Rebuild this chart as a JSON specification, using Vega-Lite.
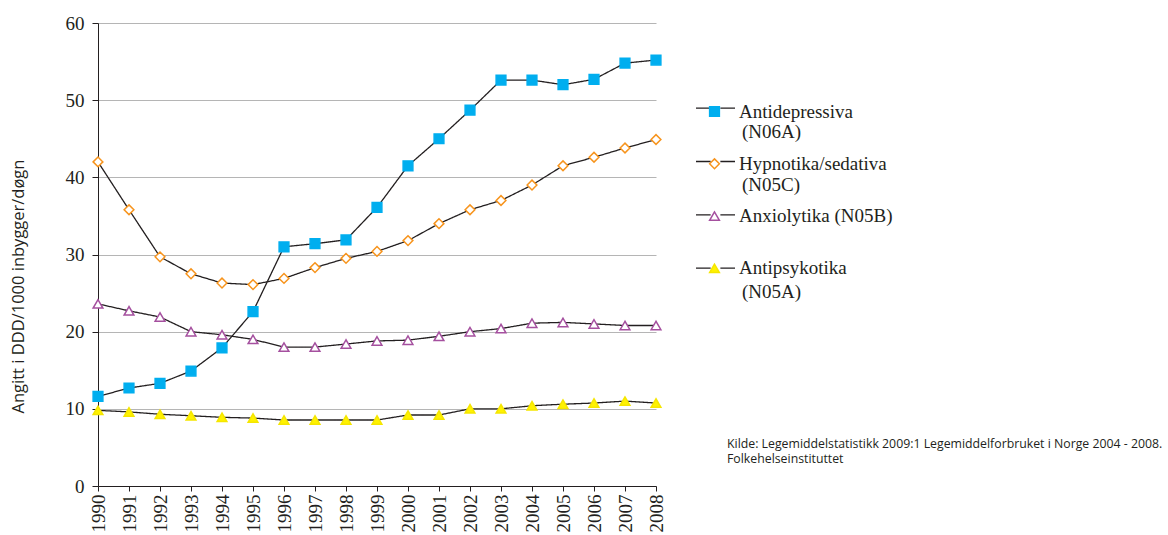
{
  "$schema": "https://vega.github.io/schema/vega-lite/v6.json",
  "width": 558,
  "height": 463,
  "autosize": {"type": "none"},
  "padding": {"left": 98, "top": 23, "right": 512, "bottom": 49},
  "background": "white",
  "title": {
    "text": ["Kilde: Legemiddelstatistikk 2009:1 Legemiddelforbruket i Norge 2004 - 2008.", "Folkehelseinstituttet"],
    "orient": "bottom",
    "anchor": "start",
    "frame": "group",
    "offset": 0,
    "dx": 629,
    "dy": -94,
    "font": "Open Sans",
    "fontSize": 12.3,
    "fontWeight": "normal",
    "color": "#231f20",
    "lineHeight": 15
  },
  "config": {
    "view": {"stroke": null},
    "legend": {"gridAlign": "all", "padding": 0}
  },
  "data": {
    "values": [
      {"year": 1990, "serie": "Antidepressiva (N06A)", "value": 11.6},
      {"year": 1991, "serie": "Antidepressiva (N06A)", "value": 12.7},
      {"year": 1992, "serie": "Antidepressiva (N06A)", "value": 13.3},
      {"year": 1993, "serie": "Antidepressiva (N06A)", "value": 14.9},
      {"year": 1994, "serie": "Antidepressiva (N06A)", "value": 17.9},
      {"year": 1995, "serie": "Antidepressiva (N06A)", "value": 22.6},
      {"year": 1996, "serie": "Antidepressiva (N06A)", "value": 31.0},
      {"year": 1997, "serie": "Antidepressiva (N06A)", "value": 31.4},
      {"year": 1998, "serie": "Antidepressiva (N06A)", "value": 31.9},
      {"year": 1999, "serie": "Antidepressiva (N06A)", "value": 36.1},
      {"year": 2000, "serie": "Antidepressiva (N06A)", "value": 41.5},
      {"year": 2001, "serie": "Antidepressiva (N06A)", "value": 45.0},
      {"year": 2002, "serie": "Antidepressiva (N06A)", "value": 48.7},
      {"year": 2003, "serie": "Antidepressiva (N06A)", "value": 52.6},
      {"year": 2004, "serie": "Antidepressiva (N06A)", "value": 52.6},
      {"year": 2005, "serie": "Antidepressiva (N06A)", "value": 52.0},
      {"year": 2006, "serie": "Antidepressiva (N06A)", "value": 52.7},
      {"year": 2007, "serie": "Antidepressiva (N06A)", "value": 54.8},
      {"year": 2008, "serie": "Antidepressiva (N06A)", "value": 55.2},
      {"year": 1990, "serie": "Hypnotika/sedativa (N05C)", "value": 42.0},
      {"year": 1991, "serie": "Hypnotika/sedativa (N05C)", "value": 35.8},
      {"year": 1992, "serie": "Hypnotika/sedativa (N05C)", "value": 29.7},
      {"year": 1993, "serie": "Hypnotika/sedativa (N05C)", "value": 27.5},
      {"year": 1994, "serie": "Hypnotika/sedativa (N05C)", "value": 26.3},
      {"year": 1995, "serie": "Hypnotika/sedativa (N05C)", "value": 26.1},
      {"year": 1996, "serie": "Hypnotika/sedativa (N05C)", "value": 26.9},
      {"year": 1997, "serie": "Hypnotika/sedativa (N05C)", "value": 28.3},
      {"year": 1998, "serie": "Hypnotika/sedativa (N05C)", "value": 29.5},
      {"year": 1999, "serie": "Hypnotika/sedativa (N05C)", "value": 30.4},
      {"year": 2000, "serie": "Hypnotika/sedativa (N05C)", "value": 31.8},
      {"year": 2001, "serie": "Hypnotika/sedativa (N05C)", "value": 34.0},
      {"year": 2002, "serie": "Hypnotika/sedativa (N05C)", "value": 35.8},
      {"year": 2003, "serie": "Hypnotika/sedativa (N05C)", "value": 37.0},
      {"year": 2004, "serie": "Hypnotika/sedativa (N05C)", "value": 39.0},
      {"year": 2005, "serie": "Hypnotika/sedativa (N05C)", "value": 41.5},
      {"year": 2006, "serie": "Hypnotika/sedativa (N05C)", "value": 42.6},
      {"year": 2007, "serie": "Hypnotika/sedativa (N05C)", "value": 43.8},
      {"year": 2008, "serie": "Hypnotika/sedativa (N05C)", "value": 44.9},
      {"year": 1990, "serie": "Anxiolytika (N05B)", "value": 23.6},
      {"year": 1991, "serie": "Anxiolytika (N05B)", "value": 22.7},
      {"year": 1992, "serie": "Anxiolytika (N05B)", "value": 21.9},
      {"year": 1993, "serie": "Anxiolytika (N05B)", "value": 20.0},
      {"year": 1994, "serie": "Anxiolytika (N05B)", "value": 19.6},
      {"year": 1995, "serie": "Anxiolytika (N05B)", "value": 19.0},
      {"year": 1996, "serie": "Anxiolytika (N05B)", "value": 18.0},
      {"year": 1997, "serie": "Anxiolytika (N05B)", "value": 18.0},
      {"year": 1998, "serie": "Anxiolytika (N05B)", "value": 18.4},
      {"year": 1999, "serie": "Anxiolytika (N05B)", "value": 18.8},
      {"year": 2000, "serie": "Anxiolytika (N05B)", "value": 18.9},
      {"year": 2001, "serie": "Anxiolytika (N05B)", "value": 19.4},
      {"year": 2002, "serie": "Anxiolytika (N05B)", "value": 20.0},
      {"year": 2003, "serie": "Anxiolytika (N05B)", "value": 20.4},
      {"year": 2004, "serie": "Anxiolytika (N05B)", "value": 21.1},
      {"year": 2005, "serie": "Anxiolytika (N05B)", "value": 21.2},
      {"year": 2006, "serie": "Anxiolytika (N05B)", "value": 21.0},
      {"year": 2007, "serie": "Anxiolytika (N05B)", "value": 20.8},
      {"year": 2008, "serie": "Anxiolytika (N05B)", "value": 20.8},
      {"year": 1990, "serie": "Antipsykotika (N05A)", "value": 9.8},
      {"year": 1991, "serie": "Antipsykotika (N05A)", "value": 9.6},
      {"year": 1992, "serie": "Antipsykotika (N05A)", "value": 9.3},
      {"year": 1993, "serie": "Antipsykotika (N05A)", "value": 9.1},
      {"year": 1994, "serie": "Antipsykotika (N05A)", "value": 8.9},
      {"year": 1995, "serie": "Antipsykotika (N05A)", "value": 8.8},
      {"year": 1996, "serie": "Antipsykotika (N05A)", "value": 8.55},
      {"year": 1997, "serie": "Antipsykotika (N05A)", "value": 8.55},
      {"year": 1998, "serie": "Antipsykotika (N05A)", "value": 8.55},
      {"year": 1999, "serie": "Antipsykotika (N05A)", "value": 8.55},
      {"year": 2000, "serie": "Antipsykotika (N05A)", "value": 9.2},
      {"year": 2001, "serie": "Antipsykotika (N05A)", "value": 9.2},
      {"year": 2002, "serie": "Antipsykotika (N05A)", "value": 10.0},
      {"year": 2003, "serie": "Antipsykotika (N05A)", "value": 10.0},
      {"year": 2004, "serie": "Antipsykotika (N05A)", "value": 10.4},
      {"year": 2005, "serie": "Antipsykotika (N05A)", "value": 10.6},
      {"year": 2006, "serie": "Antipsykotika (N05A)", "value": 10.75},
      {"year": 2007, "serie": "Antipsykotika (N05A)", "value": 11.0},
      {"year": 2008, "serie": "Antipsykotika (N05A)", "value": 10.75}
    ]
  },
  "encoding": {
    "x": {
      "field": "year",
      "type": "ordinal",
      "scale": {"type": "point", "padding": 0},
      "axis": {
        "title": null,
        "labelAngle": -90,
        "labelFont": "Liberation Serif",
        "labelFontSize": 19,
        "labelColor": "#231f20",
        "labelPadding": 3,
        "tickSize": 5,
        "tickColor": "#231f20",
        "domainColor": "#231f20",
        "grid": false
      }
    },
    "y": {
      "field": "value",
      "type": "quantitative",
      "scale": {"domain": [0, 60], "nice": false},
      "axis": {
        "values": [0, 10, 20, 30, 40, 50, 60],
        "title": "Angitt i DDD/1000 inbygger/døgn",
        "titleFont": "Open Sans",
        "titleFontSize": 16.5,
        "titleFontWeight": "normal",
        "titleColor": "#231f20",
        "titleX": -72,
        "titleY": 263,
        "labelFont": "Liberation Serif",
        "labelFontSize": 19,
        "labelColor": "#231f20",
        "labelPadding": 8,
        "tickSize": 6,
        "tickColor": "#231f20",
        "domainColor": "#231f20",
        "grid": true,
        "gridColor": "#b5b5b5",
        "gridWidth": 1
      }
    }
  },
  "layer": [
    {
      "mark": {"type": "line", "color": "#231f20", "strokeWidth": 1.3},
      "encoding": {
        "strokeDash": {
          "field": "serie",
          "type": "nominal",
          "sort": ["Antidepressiva (N06A)", "Hypnotika/sedativa (N05C)", "Anxiolytika (N05B)", "Antipsykotika (N05A)"],
          "scale": {
            "range": [[1, 0], [1, 0], [1, 0], [1, 0]]
          },
          "legend": {
            "orient": "none",
            "legendX": 597,
            "legendY": 88.5,
            "title": null,
            "symbolType": "M-1,-1.22H-0.25M0.25,-1.22H1",
            "symbolSize": 1521,
            "symbolStrokeColor": "#231f20",
            "symbolStrokeWidth": 1.3,
            "rowPadding": 16.3,
            "labelFont": "Liberation Serif",
            "labelFontSize": 19,
            "labelColor": "#231f20",
            "labelOffset": 6,
            "labelBaseline": "middle",
            "labelExpr": "datum.label == 'Anxiolytika (N05B)' ? '' : substring(datum.label, indexof(datum.label, '('))"
          }
        }
      }
    },
    {
      "mark": {"type": "point", "filled": true, "size": 95, "strokeWidth": 1.5, "opacity": 1},
      "encoding": {
        "shape": {
          "field": "serie",
          "type": "nominal",
          "scale": {
            "domain": ["Antidepressiva (N06A)", "Hypnotika/sedativa (N05C)", "Anxiolytika (N05B)", "Antipsykotika (N05A)"],
            "range": ["square", "diamond", "triangle-up", "triangle-up"]
          },
          "legend": {
            "orient": "none",
            "legendX": 607,
            "legendY": 79,
            "title": null,
            "rowPadding": 32.3,
            "symbolSize": 95,
            "symbolStrokeWidth": 1.5,
            "symbolOpacity": 1,
            "labelFont": "Liberation Serif",
            "labelFontSize": 19,
            "labelColor": "#231f20",
            "labelOffset": 15,
            "labelLimit": 400,
            "labelBaseline": "middle",
            "labelExpr": "datum.label == 'Anxiolytika (N05B)' ? datum.label : substring(datum.label, 0, indexof(datum.label, ' ('))"
          }
        },
        "fill": {
          "field": "serie",
          "type": "nominal",
          "scale": {
            "domain": ["Antidepressiva (N06A)", "Hypnotika/sedativa (N05C)", "Anxiolytika (N05B)", "Antipsykotika (N05A)"],
            "range": ["#00aeef", "#ffffff", "#ffffff", "#fff200"]
          }
        },
        "stroke": {
          "field": "serie",
          "type": "nominal",
          "scale": {
            "domain": ["Antidepressiva (N06A)", "Hypnotika/sedativa (N05C)", "Anxiolytika (N05B)", "Antipsykotika (N05A)"],
            "range": ["#00aeef", "#f7941d", "#a5509f", "#f5e600"]
          }
        }
      }
    }
  ]
}
